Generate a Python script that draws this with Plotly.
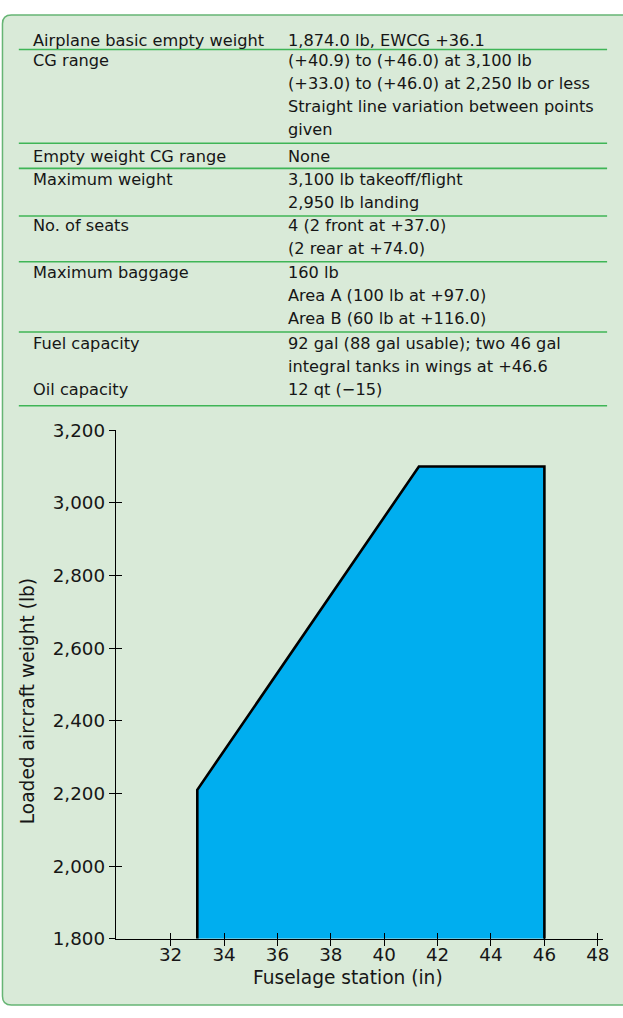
import plotly.graph_objects as go

# ---- specification table ----
spec_labels = [
    "Airplane basic empty weight",
    "CG range",
    "Empty weight CG range",
    "Maximum weight",
    "No. of seats",
    "Maximum baggage",
    "Fuel capacity",
    "Oil capacity",
]
spec_values = [
    ["1,874.0 lb, EWCG +36.1"],
    ["(+40.9) to (+46.0) at 3,100 lb",
     "(+33.0) to (+46.0) at 2,250 lb or less",
     "Straight line variation between points",
     "given"],
    ["None"],
    ["3,100 lb takeoff/flight", "2,950 lb landing"],
    ["4 (2 front at +37.0)", "(2 rear at +74.0)"],
    ["160 lb", "Area A (100 lb at +97.0)", "Area B (60 lb at +116.0)"],
    ["92 gal (88 gal usable); two 46 gal", "integral tanks in wings at +46.6"],
    ["12 qt (\u221215)"],
]

# ---- CG envelope ----
cg_station = [33.0, 33.0, 41.3, 46.0, 46.0]
loaded_weight = [1800, 2210, 3100, 3100, 1800]

x_ticks = [32, 34, 36, 38, 40, 42, 44, 46, 48]
y_ticks = [1800, 2000, 2200, 2400, 2600, 2800, 3000, 3200]

# ---- page geometry (pixels from the top-left corner) ----
W, H = 623, 1018
FONT = "DejaVu Sans, Liberation Sans, Arial, sans-serif"
TEXT = "#161616"
PANEL = "#d9ead8"
BORDER = "#66b574"
RULE = "#3fb556"

entry_top = [30.0, 51.0, 148.5, 171.8, 219.0, 267.0, 339.2, 386.0]
line_pitch = 23.5
rule_rows = [39.3, 135.0, 160.7, 209.3, 256.0, 327.7, 403.0]
label_x, value_x = 31, 289
table_font = 16.2
tick_font = 18.3
title_font = 18.6


def px(x):
    return x / W


def py(y):
    return 1 - y / H


shapes = []
annotations = []

# rounded panel, open on the right
r = 9
left, top, bottom, right = 2.5, 4, 1015, W + 10
panel_path = (
    f"M {px(right)},{py(top)} L {px(left + r)},{py(top)} "
    f"Q {px(left)},{py(top)} {px(left)},{py(top + r)} "
    f"L {px(left)},{py(bottom - r)} "
    f"Q {px(left)},{py(bottom)} {px(left + r)},{py(bottom)} "
    f"L {px(right)},{py(bottom)} Z"
)
shapes.append(dict(type="path", xref="paper", yref="paper", path=panel_path,
                   fillcolor=PANEL, line=dict(color=BORDER, width=1.5),
                   layer="below"))

for lab, vals, y0 in zip(spec_labels, spec_values, entry_top):
    annotations.append(dict(x=px(label_x), y=py(y0), xref="paper", yref="paper",
                            text=lab, showarrow=False, xanchor="left",
                            yanchor="middle",
                            font=dict(size=table_font, color=TEXT)))
    for j, v in enumerate(vals):
        annotations.append(dict(x=px(value_x), y=py(y0 + j * line_pitch),
                                xref="paper", yref="paper", text=v,
                                showarrow=False, xanchor="left",
                                yanchor="middle",
                                font=dict(size=table_font, color=TEXT)))

for ry in rule_rows:
    shapes.append(dict(type="line", xref="paper", yref="paper",
                       x0=px(19), x1=px(613), y0=py(ry), y1=py(ry),
                       line=dict(color=RULE, width=1.6)))

# axis titles
annotations.append(dict(x=px(28), y=py(705), xref="paper", yref="paper",
                        text="Loaded aircraft weight (lb)", textangle=-90,
                        showarrow=False, xanchor="center", yanchor="middle",
                        font=dict(size=title_font, color=TEXT)))
annotations.append(dict(x=px(351), y=py(987), xref="paper", yref="paper",
                        text="Fuselage station (in)", showarrow=False,
                        xanchor="center", yanchor="middle",
                        font=dict(size=title_font, color=TEXT)))

fig = go.Figure()
fig.add_trace(go.Scatter(
    x=cg_station, y=loaded_weight, mode="lines", fill="toself",
    fillcolor="#00aeef", line=dict(color="#000000", width=2.6),
    hoverinfo="skip", showlegend=False, cliponaxis=False,
))
# companion axes carrying the inner half of each tick mark
fig.add_trace(go.Scatter(x=[None], y=[None], xaxis="x2", yaxis="y2",
                         showlegend=False, hoverinfo="skip"))

x_dom = [px(117), px(609)]
y_dom = [py(947.3), py(428)]
x_rng = [29.95, 48.2]
y_rng = [1800, 3200]

common = dict(showgrid=False, zeroline=False, tickcolor="#000000",
              tickwidth=1.2, ticklen=6, fixedrange=True)

fig.update_layout(
    width=W, height=H,
    margin=dict(l=0, r=0, t=0, b=0),
    paper_bgcolor="#ffffff",
    plot_bgcolor="rgba(0,0,0,0)",
    font=dict(family=FONT, color=TEXT),
    shapes=shapes,
    annotations=annotations,
    xaxis=dict(domain=x_dom, range=x_rng, tickvals=x_ticks, ticks="outside",
               showline=True, linecolor="#000000", linewidth=1.3,
               tickfont=dict(size=tick_font, color=TEXT), anchor="y",
               ticklabelstandoff=-7, **common),
    yaxis=dict(domain=y_dom, range=y_rng, tickvals=y_ticks, ticks="outside",
               tickformat=",", showline=True, linecolor="#000000",
               linewidth=1.3, tickfont=dict(size=tick_font, color=TEXT),
               anchor="x", ticklabelstandoff=0, **common),
    xaxis2=dict(domain=x_dom, range=x_rng, tickvals=x_ticks, ticks="inside",
                overlaying="x", anchor="y2", showticklabels=False,
                showline=False, **common),
    yaxis2=dict(domain=y_dom, range=y_rng, tickvals=y_ticks, ticks="inside",
                overlaying="y", anchor="x2", showticklabels=False,
                showline=False, **common),
    showlegend=False,
)

fig.write_html("out.html")
